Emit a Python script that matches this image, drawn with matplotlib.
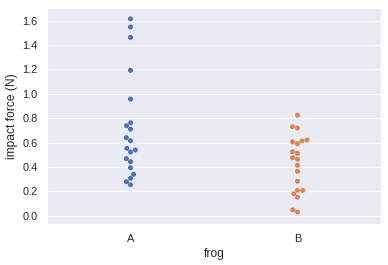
import numpy as np
import pandas as pd
import matplotlib
matplotlib.use("Agg")
import matplotlib.pyplot as plt
import seaborn as sns

# impact force readings (N) per frog
force_a = [1.615, 1.548, 1.463, 1.193, 0.957, 0.763, 0.738, 0.711, 0.640, 0.615,
           0.553, 0.539, 0.523, 0.468, 0.443, 0.394, 0.340, 0.307, 0.279, 0.254]
force_b = [0.824, 0.730, 0.719, 0.621, 0.613, 0.605, 0.591, 0.525, 0.512, 0.476,
           0.463, 0.413, 0.364, 0.282, 0.208, 0.208, 0.180, 0.151, 0.047, 0.030]
frogs = ["A", "B"]

df = pd.DataFrame({
    "frog": [frogs[0]] * len(force_a) + [frogs[1]] * len(force_b),
    "impact force (N)": force_a + force_b,
})

sns.set_theme()
plt.rcParams['font.family'] = ['Liberation Sans', 'DejaVu Sans']

fig = plt.figure(figsize=(388 / 72, 265 / 72), dpi=72)
ax = fig.add_axes([47 / 388, 41 / 265, 334 / 388, 216 / 265])

sns.swarmplot(data=df, x="frog", y="impact force (N)", hue="frog",
              palette=["#4C72B0", "#DD8452"], size=5, ax=ax, legend=False)

ax.set_xlim(-0.5, 1.5)
ax.set_ylim(-0.068, 1.704)
ax.set_yticks(np.arange(0, 1.61, 0.2))
ax.tick_params(labelsize=11)
ax.xaxis.label.set_size(12)
ax.yaxis.label.set_size(12)

fig.savefig("out.png", dpi=72)
